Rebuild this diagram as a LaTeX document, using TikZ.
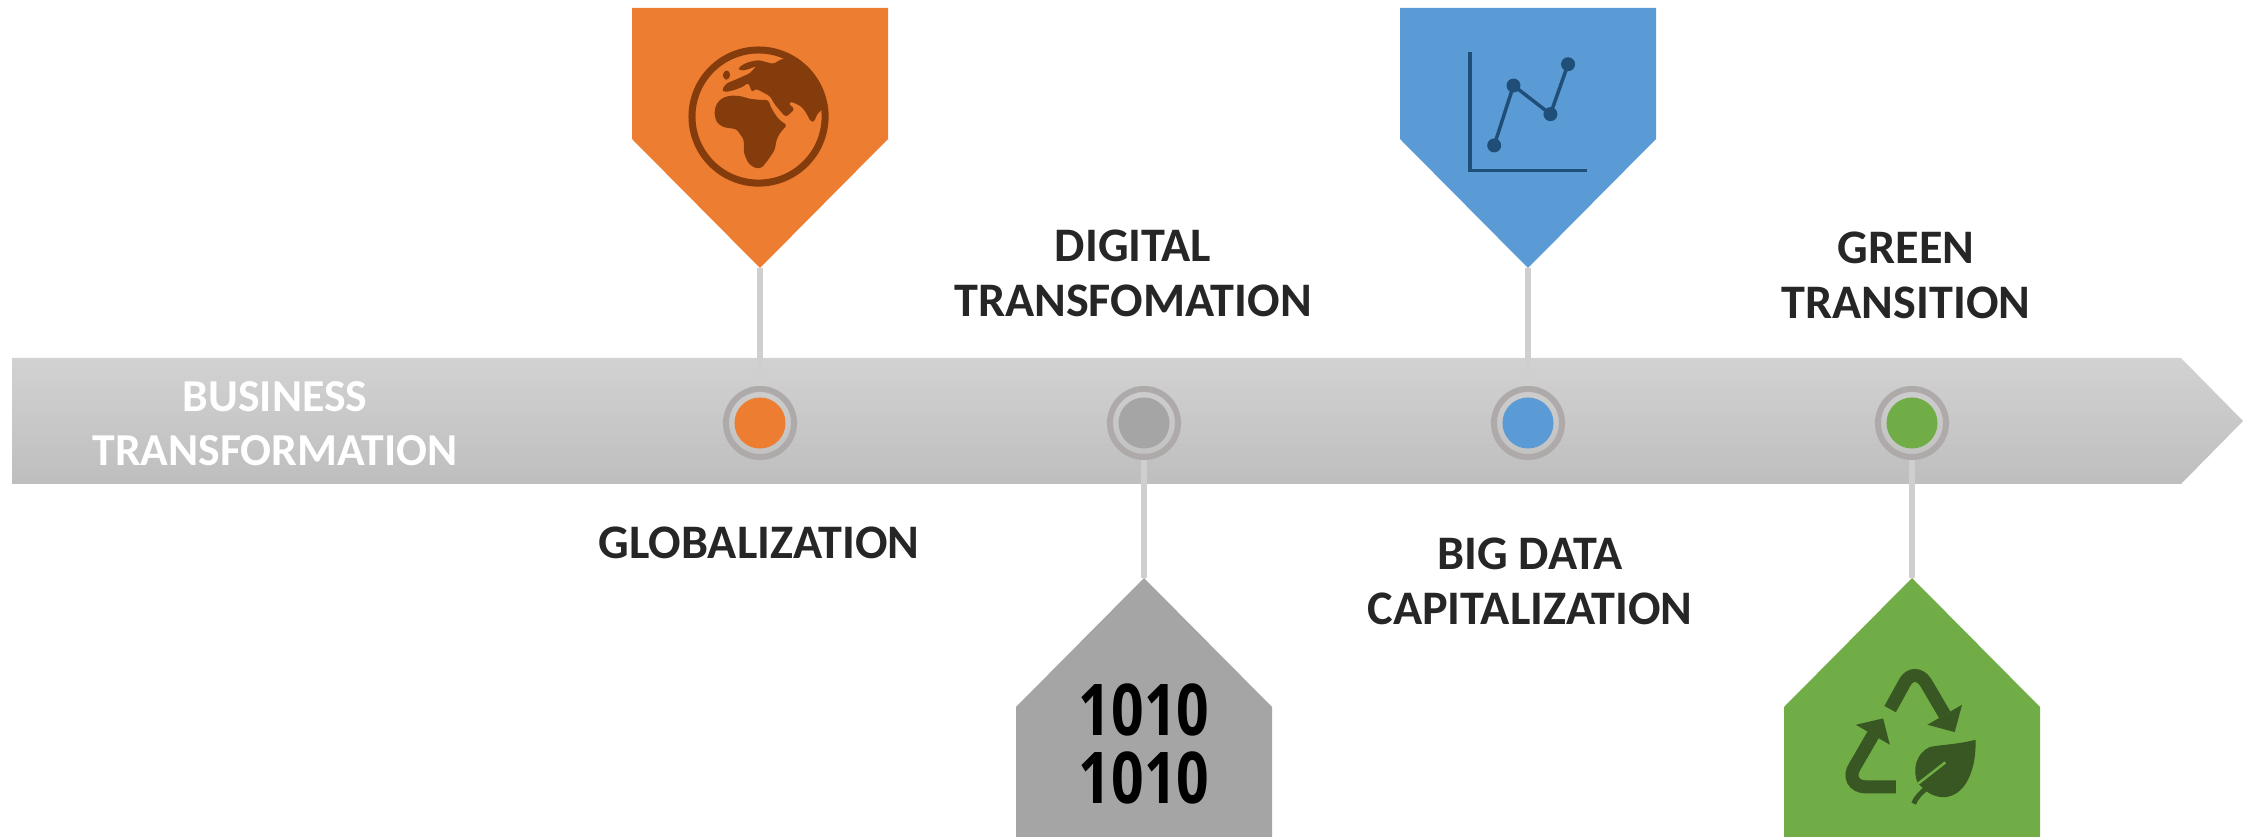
\documentclass[tikz,border=0pt]{standalone}
\usepackage{fontspec}
\setmainfont{Carlito}
\newfontfamily\iconfont[FakeStretch=0.8]{Open Sans}
\definecolor{color_bar_top}{HTML}{D2D2D2}
\definecolor{color_bar_bottom}{HTML}{BEBEBE}
\definecolor{color_ring}{HTML}{AEAAAA}
\definecolor{color_stem}{HTML}{D0CECE}
\definecolor{color_label}{HTML}{262626}
\definecolor{color_orange}{HTML}{ED7D31}
\definecolor{color_orange_dark}{HTML}{843C0C}
\definecolor{color_gray}{HTML}{A5A5A5}
\definecolor{color_blue}{HTML}{5B9BD5}
\definecolor{color_blue_dark}{HTML}{1F4E79}
\definecolor{color_green}{HTML}{70AD47}
\definecolor{color_green_dark}{HTML}{385723}
\def\labelfont{\fontsize{13.7}{15.6}\selectfont\bfseries}
\def\downpin[#1](#2){
    \fill[#1] (#2-128,8) -- (#2+128,8) -- (#2+128,139) -- (#2,268) -- (#2-128,139) -- cycle;
}
\def\uppin[#1](#2){
    \fill[#1] (#2,578) -- (#2+128,707) -- (#2+128,837) -- (#2-128,837) -- (#2-128,707) -- cycle;
}
\tikzset{
    ring/.style={circle,draw=color_ring,line width=0.06cm,minimum size=0.68cm,inner sep=0pt},
    dot/.style={circle,minimum size=0.51cm,inner sep=0pt},
    stem/.style={color_stem,line width=0.06cm},
    pinlabel/.style={color_label,font=\labelfont,align=center,inner sep=0pt},
    zoomed/.style={x=0.003333cm,y=-0.003333cm},
}
\begin{document}
\begin{tikzpicture}[x=0.01cm,y=-0.01cm]
    \useasboundingbox (0,0) rectangle (2259,837);
    % arrow
    \shade[top color=color_bar_top,bottom color=color_bar_bottom] (12,358) -- (2181,358) -- (2243,421) -- (2181,484) -- (12,484) -- cycle;
    \downpin[color_orange](760)
    \uppin[color_gray](1144)
    \downpin[color_blue](1528)
    \uppin[color_green](1912)
    \coordinate (tip_globe) at (760,268);
    \coordinate (tip_binary) at (1144,578);
    \coordinate (tip_chart) at (1528,268);
    \coordinate (tip_leaf) at (1912,578);
    \node[ring] (ring_globe) at (760,423) {};
    \node[ring] (ring_binary) at (1144,423) {};
    \node[ring] (ring_chart) at (1528,423) {};
    \node[ring] (ring_leaf) at (1912,423) {};
    \node[dot,fill=color_orange] (dot_globe) at (ring_globe) {};
    \node[dot,fill=color_gray] (dot_binary) at (ring_binary) {};
    \node[dot,fill=color_blue] (dot_chart) at (ring_chart) {};
    \node[dot,fill=color_green] (dot_leaf) at (ring_leaf) {};
    \draw[stem] (tip_globe) -- (ring_globe);
    \draw[stem] (tip_binary) -- (ring_binary);
    \draw[stem] (tip_chart) -- (ring_chart);
    \draw[stem] (tip_leaf) -- (ring_leaf);
    % labels
    \node[pinlabel,white,font=\fontsize{13}{15.4}\selectfont\bfseries] (label_business) at (275,424) {BUSINESS\\TRANSFORMATION};
    \node[pinlabel] (label_globe) at (759,543) {GLOBALIZATION};
    \node[pinlabel] (label_binary) at (1133,273) {DIGITAL\\TRANSFOMATION};
    \node[pinlabel] (label_chart) at (1530,581) {BIG DATA\\CAPITALIZATION};
    \node[pinlabel] (label_leaf) at (1906,275) {GREEN\\TRANSITION};
    % globe
    \begin{scope}[shift={(680,40)},zoomed,color_orange_dark]
        \draw[line width=0.07cm] (236,230) circle (200);
        \fill[rounded corners=0.8pt] (103,220) -- (108,195) -- (125,175) -- (150,167) -- (180,168) -- (210,177) -- (240,180) -- (266,180) -- (272,200) -- (290,230) -- (308,248) -- (322,255) -- (300,280) -- (290,300) -- (285,330) -- (265,360) -- (245,385) -- (225,385) -- (205,370) -- (192,340) -- (192,300) -- (170,268) -- (130,262) -- (110,248) -- cycle;
        \fill[rounded corners=0.8pt] (175,83) -- (200,68) -- (235,60) -- (280,72) -- (310,55) -- (350,70) -- (395,105) -- (425,150) -- (433,195) -- (424,212) -- (410,225) -- (405,245) -- (392,245) -- (380,220) -- (365,200) -- (335,185) -- (325,190) -- (345,208) -- (318,232) -- (300,212) -- (282,190) -- (272,170) -- (240,152) -- (225,146) -- (217,158) -- (205,128) -- (190,140) -- (165,150) -- (135,157) -- (125,150) -- (140,130) -- (170,118) -- (210,100) -- (230,78) -- (200,90) -- (180,92) -- cycle;
        \fill[rounded corners=0.8pt] (128,100) -- (142,88) -- (153,105) -- (142,122) -- (130,115) -- cycle;
    \end{scope}
    % chart
    \begin{scope}[shift={(1400,0)},zoomed,color_blue_dark]
        \draw[line width=0.035cm] (210,157) -- (210,513) -- (563,513);
        \draw[line width=0.035cm] (283,437) -- (341,257) -- (452,343) -- (505,193);
        \foreach \x/\y in {283/437,341/257,452/343,505/193}
            \fill (\x,\y) circle (21);
    \end{scope}
    % binary
    \node[inner sep=0pt,align=center,font=\iconfont\fontsize{20.3}{19.4}\selectfont\bfseries] (label_digits) at (1144,744) {1010\\1010};
    % recycling and leaf
    \begin{scope}[shift={(1770,570)},zoomed,color_green_dark]
        \draw[line width=0.13cm] (361,418) -- (405,338) .. controls (420,310) and (450,310) .. (468,338) -- (525,435);
        \fill (577,405) -- (555,487) -- (473,465) -- cycle;
        \draw[line width=0.13cm] (378,652) -- (290,652) .. controls (250,652) and (235,620) .. (255,590) -- (310,495);
        \fill (340,446) -- (360,525) -- (258,465) -- cycle;
        \fill (618,510) .. controls (560,525) and (510,525) .. (480,532) .. controls (440,550) and (425,600) .. (445,642) -- (470,665) .. controls (520,700) and (570,680) .. (595,630) .. controls (615,590) and (618,550) .. cycle;
        \draw[color_green,line width=0.025cm] (445,642) -- (527,578);
        \draw[line width=0.05cm] (432,702) .. controls (440,680) and (455,670) .. (470,655);
    \end{scope}
\end{tikzpicture}
\end{document}
